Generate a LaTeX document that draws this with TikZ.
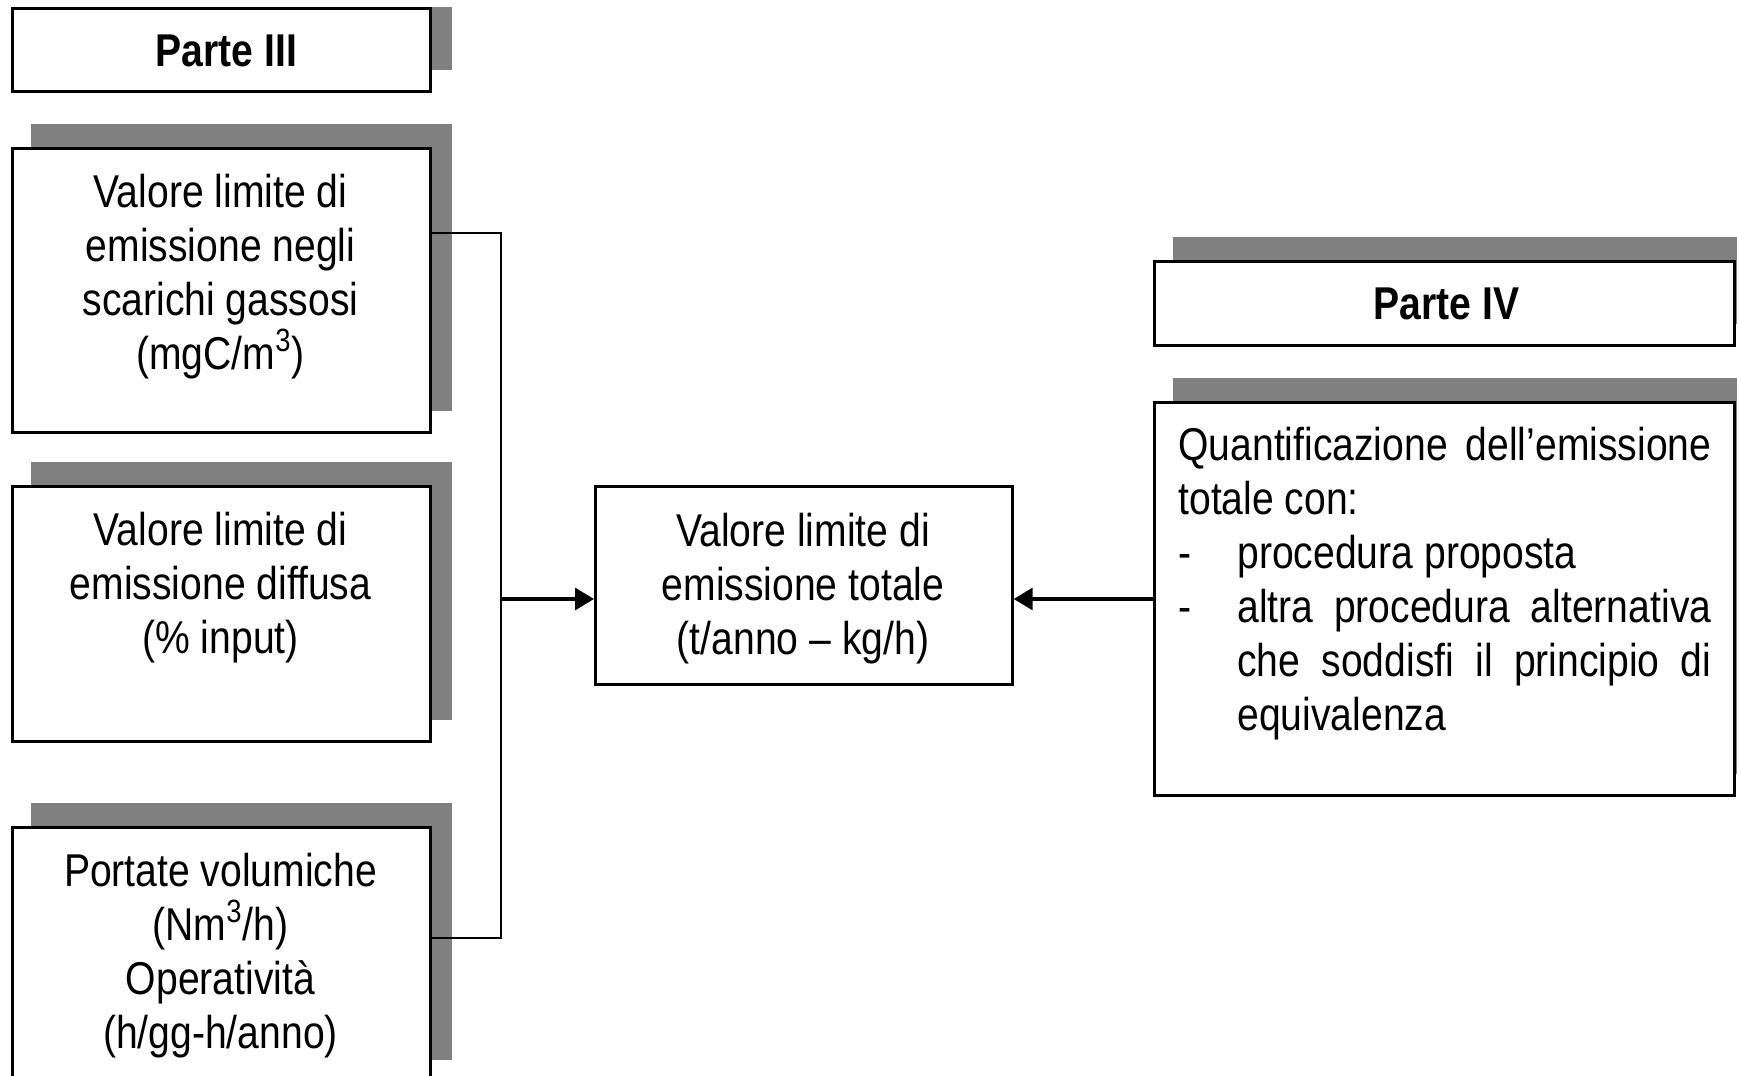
\documentclass[tikz,border=0pt]{standalone}
\usepackage{fontspec}
\setmainfont{Liberation Sans}[FakeStretch=0.85]
\usetikzlibrary{arrows.meta,backgrounds,calc}
\definecolor{shadowgray}{HTML}{808080}
\tikzset{
  box/.style={draw, line width=1.35pt, fill=white, inner sep=0pt, anchor=north west},
  shade/.style={fill=shadowgray, draw=none},
  txt/.style={align=center, inner sep=0pt, anchor=north, font=\fontsize{23pt}{27pt}\selectfont},
  headtxt/.style={inner sep=0pt, font=\fontsize{23pt}{27pt}\selectfont\bfseries},
  conn/.style={line width=1pt},
  arr/.style={line width=1.6pt, -{Triangle[length=9.5pt,width=11pt]}},
}
\begin{document}
\begin{tikzpicture}[x=0.5pt,y=-0.5pt]
\useasboundingbox (0,0) rectangle (1737,1076);
% boxes
\node[box, minimum width=209pt, minimum height=41.5pt] (p3) at (11,7) {};
\node[box, minimum width=209pt, minimum height=142pt] (b2) at (11,147) {};
\node[box, minimum width=209pt, minimum height=127.5pt] (b3) at (11,485) {};
\node[box, minimum width=209pt, minimum height=127pt] (b4) at (11,826) {};
\node[box, minimum width=208.5pt, minimum height=99pt] (c) at (594,485) {};
\node[box, minimum width=290pt, minimum height=42pt] (p4) at (1153,260) {};
\node[box, minimum width=290pt, minimum height=196.5pt] (q) at (1153,401) {};
% shadows
\begin{scope}[on background layer]
\clip (0,0) rectangle (1737,1076);
\fill[shade] (p3.north east) rectangle ($(p3.south east)+(20,-23)$);
\foreach \b in {b2,b3,b4,p4,q}{
  \fill[shade] ($(\b.north west)+(20,-23)$) rectangle ($(\b.south east)+(20,-23)$);
}
\end{scope}
% texts
\node[headtxt] (p3t) at ($(p3.center)+(5,1)$) {Parte III};
\node[headtxt] (p4t) at ($(p4.center)+(2,1)$) {Parte IV};
\node[txt] (t2) at (220.5,173.5) {Valore limite di\\emissione negli\\scarichi gassosi\\(mgC/m\textsuperscript{3})};
\node[txt] (t3) at (220.5,511.5) {Valore limite di\\emissione diffusa\\(\% input)};
\node[txt] (t4) at (220.5,852.5) {Portate volumiche\\(Nm\textsuperscript{3}/h)\\Operatività\\(h/gg-h/anno)};
\node[txt] (tc) at (803,512.5) {Valore limite di\\emissione totale\\(t/anno -- kg/h)};
\node[inner sep=0pt, anchor=north west, text width=266.5pt, align=justify,
      font=\fontsize{23pt}{27pt}\selectfont] (qt) at (1178,427)
  {\noindent Quantificazione dell’emissione\linebreak totale con:\par
   \noindent\makebox[29.5pt][l]{-}procedura proposta\par
   \hangindent=29.5pt\hangafter=1\noindent\makebox[29.5pt][l]{-}altra procedura alternativa\linebreak che soddisfi il principio di\linebreak equivalenza\par};
% connectors
\coordinate (j1) at (501,233);
\coordinate (j2) at (501,938);
\coordinate (j3) at (501,599);
\draw[conn] (b2.east |- j1) -- (j1) -- (j2) -- (b4.east |- j2);
\draw[arr] (j3) -- (c.west |- j3);
\draw[arr] (q.west |- j3) -- (c.east |- j3);
\end{tikzpicture}
\end{document}
